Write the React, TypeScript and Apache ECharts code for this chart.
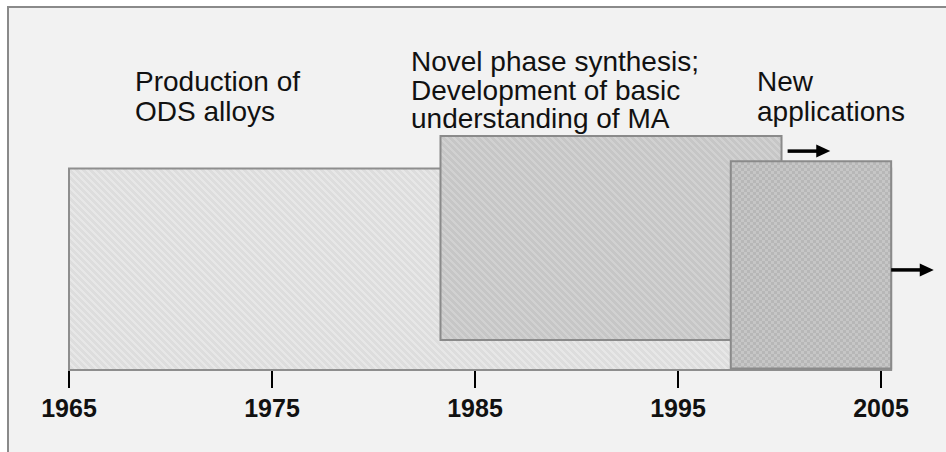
import React, { useEffect, useRef } from "react";
import * as echarts from "echarts";

// Axis ticks (years)
const axisMin = 1965;
const axisMax = 2005;
const axisStep = 10;

// Phases (boxes): start/end year and schematic vertical extent (0-100)
const phaseNames = ["Production of ODS alloys", "Novel phase synthesis", "New applications"];
const phaseStart = [1965, 1983.3, 1997.6];
const phaseEnd = [2005.5, 2000.1, 2005.5];
const phaseLow = [0, 12.5, 0.6];
const phaseHigh = [84, 97.5, 87];

// Arrows showing continuation
const arrowFrom = [2000.4, 2005.5];
const arrowTo = [2002.5, 2007.6];
const arrowLevel = [91.2, 41.7];

// Annotation lines
const labelProduction = ["Production of", "ODS alloys"];
const labelNovel = ["Novel phase synthesis;", "Development of basic", "understanding of MA"];
const labelNew = ["New", "applications"];

function makeTile(kind: string, base: string, alt: string, period: number, width: number) {
  const c = document.createElement("canvas");
  c.width = period;
  c.height = period;
  const ctx = c.getContext("2d")!;
  ctx.fillStyle = base;
  ctx.fillRect(0, 0, period, period);
  ctx.fillStyle = alt;
  for (let x = 0; x < period; x++) {
    for (let y = 0; y < period; y++) {
      let on = false;
      if (kind === "stripe") {
        on = (((x - y) % period) + period) % period < width;
      } else {
        on = (Math.floor(x / width) + Math.floor(y / width)) % 2 === 0;
      }
      if (on) ctx.fillRect(x, y, 1, 1);
    }
  }
  return { image: c as any, repeat: "repeat", imageWidth: period, imageHeight: period } as any;
}

export default function App() {
  const ref = useRef<HTMLDivElement>(null);
  useEffect(() => {
    if (!ref.current) return;
    const chart = echarts.init(ref.current, null, { renderer: "svg" });
    const fills = [
      makeTile("stripe", "#dddddd", "#e7e7e7", 7, 3),
      makeTile("stripe", "#c6c6c6", "#d1d1d1", 7, 3),
      makeTile("checker", "#b7b7b7", "#c6c6c6", 6, 3),
    ];
    const strokes = ["#8e8e8e", "#8a8a8a", "#8a8a8a"];
    const boxData = phaseNames.map((n, i) => [phaseStart[i], phaseEnd[i], phaseLow[i], phaseHigh[i], i]);
    const arrowData = arrowFrom.map((f, i) => [f, arrowTo[i], arrowLevel[i]]);
    const font = "'Liberation Sans', Arial, sans-serif";
    const textEls: any[] = [];
    const addLines = (lines: string[], x: number, ys: number[]) => {
      lines.forEach((t, i) =>
        textEls.push({
          type: "text",
          x,
          y: ys[i],
          style: { text: t, fontSize: 28, fontFamily: font, fill: "#111", verticalAlign: "middle", align: "left" },
        })
      );
    };
    addLines(labelProduction, 135, [81, 111]);
    addLines(labelNovel, 411, [61, 90, 118]);
    addLines(labelNew, 757, [81, 111]);

    chart.setOption({
      animation: false,
      backgroundColor: "#ffffff",
      grid: { left: 69, width: 812, top: 130, height: 240 },
      xAxis: {
        type: "value",
        min: axisMin,
        max: axisMax,
        interval: axisStep,
        axisLine: { show: false },
        axisTick: { show: true, length: 18, lineStyle: { color: "#000", width: 2 } },
        axisLabel: {
          margin: 25,
          fontSize: 25,
          fontWeight: "bold",
          fontFamily: font,
          color: "#111",
          formatter: (v: number) => String(v),
        },
        splitLine: { show: false },
      },
      yAxis: { type: "value", min: 0, max: 100, show: false },
      graphic: [
        {
          type: "rect",
          z: -10,
          silent: true,
          shape: { x: 7, y: 6, width: 946, height: 452 },
          style: { fill: "#f2f2f2" },
        },
        {
          type: "line",
          z: -9,
          shape: { x1: 7, y1: 7, x2: 946, y2: 7 },
          style: { stroke: "#8a8a8a", lineWidth: 2 },
        },
        {
          type: "line",
          z: -9,
          shape: { x1: 8, y1: 6, x2: 8, y2: 452 },
          style: { stroke: "#8a8a8a", lineWidth: 2 },
        },
        ...textEls,
      ],
      series: [
        {
          type: "custom",
          clip: false,
          data: boxData,
          renderItem: (params: any, api: any) => {
            const i = api.value(4);
            const p1 = api.coord([api.value(0), api.value(3)]);
            const p2 = api.coord([api.value(1), api.value(2)]);
            return {
              type: "rect",
              shape: { x: p1[0], y: p1[1], width: p2[0] - p1[0], height: p2[1] - p1[1] },
              style: { fill: fills[i], stroke: strokes[i], lineWidth: 2 },
            };
          },
        },
        {
          type: "custom",
          clip: false,
          z: 5,
          data: arrowData,
          renderItem: (params: any, api: any) => {
            const a = api.coord([api.value(0), api.value(2)]);
            const b = api.coord([api.value(1), api.value(2)]);
            const head = 14;
            return {
              type: "group",
              children: [
                {
                  type: "line",
                  shape: { x1: a[0], y1: a[1], x2: b[0] - head + 2, y2: b[1] },
                  style: { stroke: "#000", lineWidth: 3.5 },
                },
                {
                  type: "polygon",
                  shape: {
                    points: [
                      [b[0], b[1]],
                      [b[0] - head, b[1] - 6.5],
                      [b[0] - head, b[1] + 6.5],
                    ],
                  },
                  style: { fill: "#000" },
                },
              ],
            };
          },
        },
      ],
    });
    return () => chart.dispose();
  }, []);
  return (
    <div
      ref={ref}
      style={{ position: "absolute", left: 0, top: 0, width: 946, height: 452 }}
    />
  );
}
